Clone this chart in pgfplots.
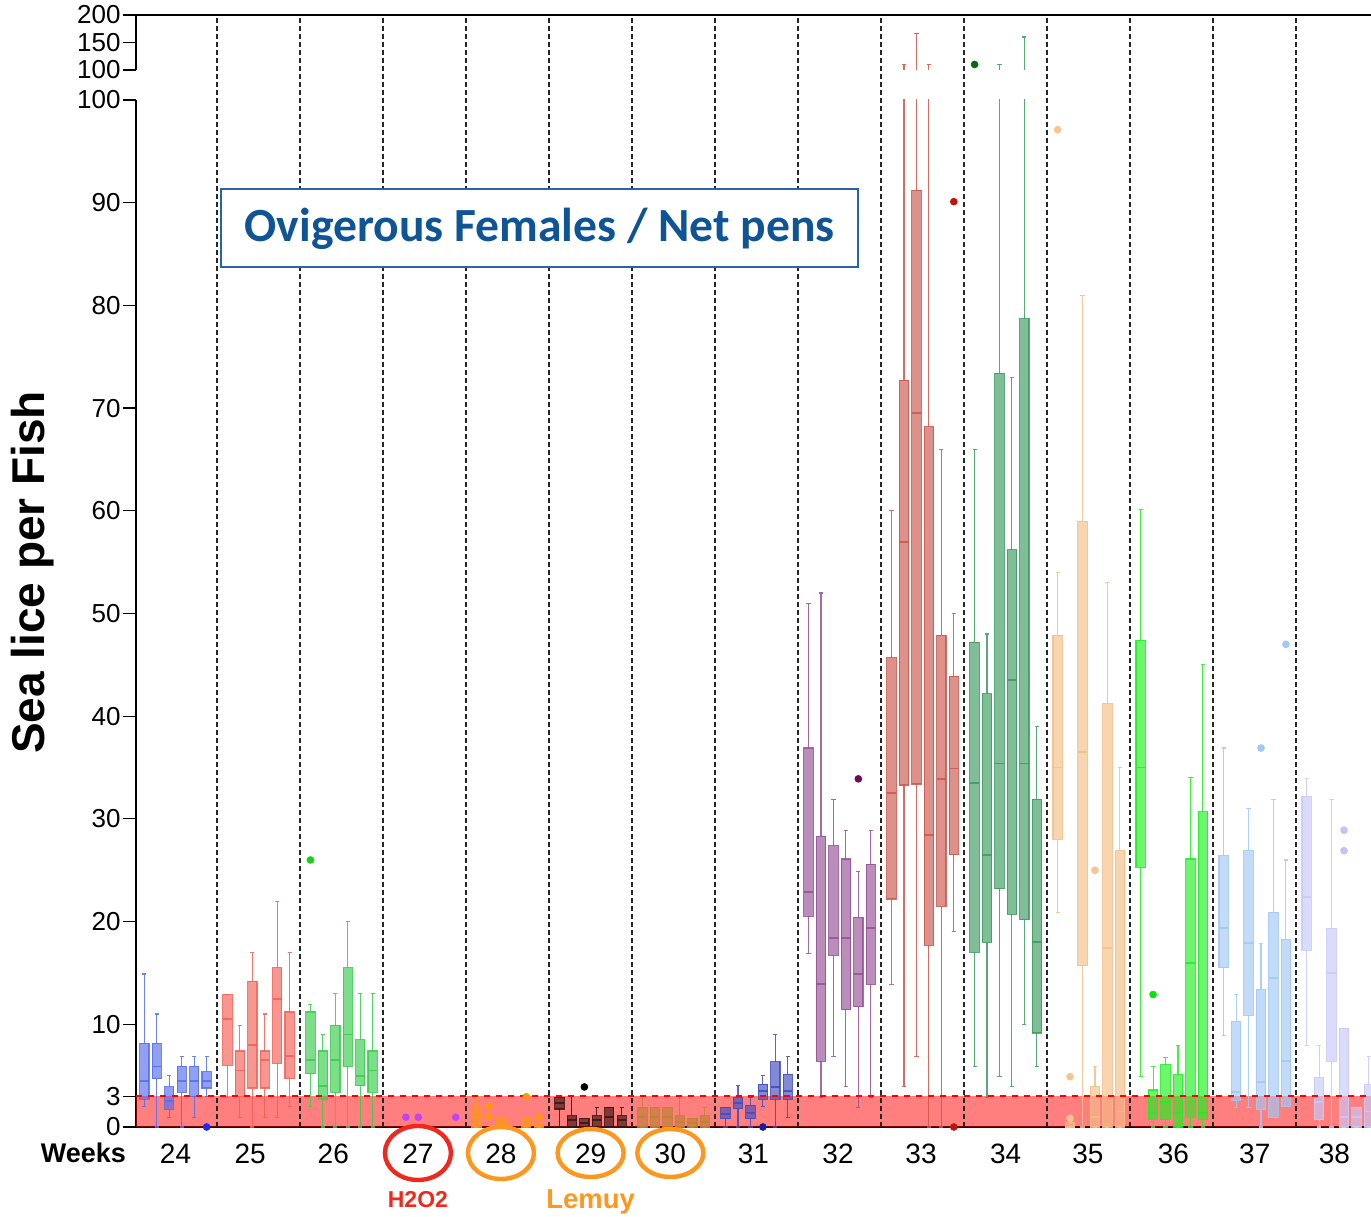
\documentclass[border=0pt]{standalone}
\usepackage{pgfplots}
\pgfplotsset{compat=1.18}
\usepackage{pgfplotstable}
\usepgfplotslibrary{statistics}
\usepackage{fontspec}
\setmainfont{Liberation Sans}
\newfontfamily\titlefont{Carlito}

\definecolor{c24}{RGB}{85,110,240}
\definecolor{c25}{RGB}{245,95,85}
\definecolor{c26}{RGB}{55,205,75}
\definecolor{c27}{RGB}{190,70,240}
\definecolor{c28}{RGB}{255,150,20}
\definecolor{c29}{RGB}{60,20,20}
\definecolor{c30}{RGB}{190,130,50}
\definecolor{c31}{RGB}{65,75,190}
\definecolor{c32}{RGB}{150,80,150}
\definecolor{c33}{RGB}{205,85,75}
\definecolor{c34}{RGB}{60,155,95}
\definecolor{c35}{RGB}{245,190,135}
\definecolor{c36}{RGB}{30,240,30}
\definecolor{c37}{RGB}{160,200,245}
\definecolor{c38}{RGB}{200,200,250}
\definecolor{d24}{RGB}{30,40,250}
\definecolor{d26}{RGB}{20,210,20}
\definecolor{d31}{RGB}{20,30,160}
\definecolor{d32}{RGB}{110,10,90}
\definecolor{d33}{RGB}{190,20,15}
\definecolor{d34}{RGB}{0,110,20}
\definecolor{d35}{RGB}{248,195,145}
\definecolor{d36}{RGB}{15,225,15}
\definecolor{d37}{RGB}{160,200,248}
\definecolor{d38}{RGB}{195,195,245}
\definecolor{titleblue}{RGB}{15,85,150}
\definecolor{boxblue}{RGB}{40,100,170}
\definecolor{lemuy}{RGB}{255,150,30}
\definecolor{hred}{RGB}{240,40,30}

% one row per net pen: week, position, lower whisker, Q1, median, Q3, upper whisker
\pgfplotstableread{
wk pos lw lq med uq uw
24 23.625 2.0 2.7 4.5 8.15 14.9
24 23.775 0 4.7 5.9 8.15 11.0
24 23.925 0.9 1.7 2.5 3.9 5.0
24 24.075 0 3.4 4.5 5.9 6.9
24 24.225 0.9 2.95 4.5 5.9 6.9
24 24.375 3.0 3.8 4.5 5.4 6.9
25 24.625 2.9 6.0 10.5 12.9 12.9
25 24.775 0.9 3.0 5.5 7.4 9.9
25 24.925 0 3.8 8.0 14.2 17.0
25 25.075 0.9 3.8 6.5 7.4 11.0
25 25.225 0.9 6.2 12.5 15.5 22.0
25 25.375 2.0 4.7 6.9 11.2 17.0
26 25.625 2.0 5.2 6.5 11.2 11.9
26 25.775 0 2.7 4.0 7.4 9.0
26 25.925 0 3.4 6.5 9.9 13.0
26 26.075 0 5.9 9.0 15.5 20.0
26 26.225 0 4.0 5.0 8.5 13.0
26 26.375 0 3.4 5.5 7.4 13.0
28 27.625 0 0 1.0 2.1 3.0
28 27.925 0 0 0.3 0.85 0.85
28 28.225 0 0 0.3 0.85 0.85
28 28.375 0 0 0.1 0.3 0.3
29 28.625 0 1.75 2.3 2.85 2.85
29 28.775 0 0 0.7 1.1 2.95
29 28.925 0 0 0.4 0.85 0.85
29 29.075 0 0 0.65 1.1 1.9
29 29.225 0 0 1.0 1.9 1.9
29 29.375 0 0 0.65 1.1 1.9
30 29.625 0 0 1.0 1.9 2.95
30 29.775 0 0 1.0 1.9 1.9
30 29.925 0 0 1.0 1.9 1.9
30 30.075 0 0 0.5 1.1 2.95
30 30.225 0 0 0.4 0.85 0.85
30 30.375 0 0 0.5 1.1 1.9
31 30.625 0 0.8 1.3 1.9 1.9
31 30.775 0 1.8 2.3 2.9 4.0
31 30.925 0 0.8 1.4 2.1 2.9
31 31.075 2.0 2.7 3.5 4.15 5.0
31 31.225 0 2.7 3.9 6.35 9.0
31 31.375 0.95 2.7 3.5 5.15 6.9
32 31.625 16.9 20.5 22.9 36.9 51.0
32 31.775 2.9 6.4 13.9 28.3 52.0
32 31.925 6.9 16.7 18.4 27.4 31.9
32 32.075 3.9 11.4 18.4 26.1 28.9
32 32.225 1.9 11.7 14.9 20.4 24.9
32 32.375 2.9 13.9 19.4 25.6 28.9
33 32.625 13.9 22.2 32.5 45.7 60.0
33 32.775 3.9 33.3 57.0 72.7 110
33 32.925 6.9 33.4 69.5 91.2 166
33 33.075 0 17.7 28.4 68.2 110
33 33.225 0 21.5 33.9 47.9 66.0
33 33.375 19.0 26.5 34.9 43.9 50.0
34 33.625 5.9 17.0 33.5 47.2 66.0
34 33.775 2.9 18.0 26.5 42.2 48.0
34 33.925 4.9 23.2 35.4 73.4 110
34 34.075 3.9 20.7 43.5 56.2 73.0
34 34.225 10.0 20.2 35.4 78.7 160
34 34.375 5.9 9.15 18.0 31.9 39.0
35 34.625 20.9 28.0 35.0 47.9 54.0
35 34.775 0 0 0 0.4 0.4
35 34.925 0 15.7 36.5 59.0 81.0
35 35.075 0 0 0.95 3.9 5.9
35 35.225 0 0 17.4 41.2 53.0
35 35.375 0 0 1.5 26.9 35.0
36 35.625 4.9 25.3 35.0 47.4 60.1
36 35.775 0 0.7 1.4 3.6 5.9
36 35.925 0 0.7 2.4 6.05 6.8
36 36.075 0 0 1.4 5.1 7.9
36 36.225 0 0.95 16.0 26.1 34.0
36 36.375 0 0.7 1.4 30.7 45.0
37 36.625 8.9 15.5 19.4 26.4 36.9
37 36.775 1.9 2.6 3.4 10.3 12.9
37 36.925 1.9 10.9 17.9 26.9 31.0
37 37.075 0 1.7 4.4 13.4 17.9
37 37.225 0.95 0.95 14.5 20.9 31.9
37 37.375 2.0 2.0 6.4 18.3 26.0
38 37.625 7.9 17.2 22.4 32.2 33.9
38 37.775 0 0.7 2.4 4.8 7.9
38 37.925 0 6.4 15.0 19.3 31.9
38 38.075 0 0 0.95 9.6 9.6
38 38.225 0 0 0.95 1.9 1.9
38 38.375 0 0 1.5 4.1 6.9
}\boxdata

\pgfplotsset{
  bx/.style={draw=#1, fill=#1, fill opacity=0.65, draw opacity=0.85, line width=0.55pt, mark=none},
  box24/.style={bx=c24}, box25/.style={bx=c25}, box26/.style={bx=c26},
  box28/.style={bx=c28}, box29/.style={bx=c29}, box30/.style={bx=c30},
  box31/.style={bx=c31}, box32/.style={bx=c32}, box33/.style={bx=c33},
  box34/.style={bx=c34}, box35/.style={bx=c35}, box36/.style={bx=c36},
  box37/.style={bx=c37}, box38/.style={bx=c38},
  dots/.style={only marks, mark=*, mark size=1.7pt, color=#1},
  panel/.style={
    scale only axis, width=617.5pt,
    xmin=23.524, xmax=38.40,
    clip mode=individual,
    axis y line*=left,
    tick align=outside, major tick length=6.5pt,
    tick style={black, line width=0.6pt},
    axis line style={black, line width=0.7pt},
    tick label style={font=\fontsize{13}{15}\selectfont},
    /pgf/number format/assume math mode=true,
    yticklabel style={inner sep=1pt},
    boxplot/draw direction=y,
    boxplot/box extend=0.112,
    boxplot/whisker extend=0.05,
    boxplot/every median/.style={line width=0.9pt},
  },
}

\newcommand\drawboxes{%
  \pgfplotstablegetrowsof{\boxdata}%
  \pgfmathtruncatemacro\lastrow{\pgfplotsretval-1}%
  \pgfplotsforeachungrouped \r in {0,...,\lastrow}{%
    \pgfplotstablegetelem{\r}{wk}\of\boxdata \let\bwk\pgfplotsretval
    \pgfplotstablegetelem{\r}{pos}\of\boxdata \let\bpos\pgfplotsretval
    \pgfplotstablegetelem{\r}{lw}\of\boxdata \let\blw\pgfplotsretval
    \pgfplotstablegetelem{\r}{lq}\of\boxdata \let\blq\pgfplotsretval
    \pgfplotstablegetelem{\r}{med}\of\boxdata \let\bmed\pgfplotsretval
    \pgfplotstablegetelem{\r}{uq}\of\boxdata \let\buq\pgfplotsretval
    \pgfplotstablegetelem{\r}{uw}\of\boxdata \let\buw\pgfplotsretval
    \edef\doplot{\noexpand\addplot[box\bwk, boxplot prepared={draw position=\bpos,
      lower whisker=\blw, lower quartile=\blq, median=\bmed,
      upper quartile=\buq, upper whisker=\buw}] coordinates {};}%
    \doplot
  }%
}

\begin{document}
\begin{tikzpicture}
\useasboundingbox (-68pt,-44.5pt) rectangle (617.5pt,563.5pt);

% lower panel, 0 to 100
\begin{axis}[panel, height=513.5pt,
  ymin=0, ymax=100,
  axis x line*=bottom,
  ytick={0,3,10,20,30,40,50,60,70,80,90,100},
  xtick={24,24.9,25.9,26.92,27.92,29,29.96,30.96,31.98,32.98,34,34.99,36.02,37,37.96},
  xticklabels={24,25,26,27,28,29,30,31,32,33,34,35,36,37,38},
  x tick style={draw=none},
  xticklabel style={anchor=center, yshift=-7pt, font=\fontsize{14}{16}\selectfont},
]
\addplot[draw=none, fill=red, fill opacity=0.5] coordinates {(23.524,3) (38.4,3)} \closedcycle;
\drawboxes
\addplot[red, dashed, line width=0.7pt] coordinates {(23.524,3) (38.4,3)};
% outliers
\addplot[dots=d24] coordinates {(24.375,0)};
\addplot[dots=d26] coordinates {(25.625,26.0)};
\addplot[dots=c27] coordinates {(26.775,0.95) (26.925,0.95) (27.375,0.95)};
\addplot[dots=c28] coordinates {(27.775,2.0) (27.775,1.0) (28.225,2.95) (28.375,0.95)};
\addplot[dots=black] coordinates {(28.925,3.9)};
\addplot[dots=d31] coordinates {(31.075,0)};
\addplot[dots=d32] coordinates {(32.225,33.9)};
\addplot[dots=d33] coordinates {(33.375,90.1) (33.375,0)};
\addplot[dots=d35] coordinates {(34.625,97.1) (34.775,4.9) (34.775,0.85) (35.075,25.0)};
\addplot[dots=d36] coordinates {(35.775,12.9)};
\addplot[dots=d37] coordinates {(37.075,36.9) (37.375,47.0)};
\addplot[dots=d38] coordinates {(38.075,28.9) (38.075,26.9)};
% week separators
\pgfplotsinvokeforeach{24.5,25.5,...,37.5}{
  \draw[black!85, dash pattern=on 2.5pt off 1.5pt, line width=0.8pt] (axis cs:#1,0) -- (axis cs:#1,108.3);
}
% annotations
\node[rotate=90, font=\bfseries\fontsize{23}{26}\selectfont] at (axis cs:22.28,54) {Sea lice per Fish};
\node[font=\bfseries\fontsize{13.5}{16}\selectfont] at (axis cs:22.89,-2.53) {Weeks};
\node[draw=boxblue, line width=1pt, fill=white, minimum width=318.5pt, minimum height=39pt,
  text=titleblue, font=\titlefont\bfseries\fontsize{23.8}{26}\selectfont] at (axis cs:28.386,87.5) {Ovigerous Females / Net pens};
\draw[hred, line width=2.2pt] (axis cs:26.92,-2.53) ellipse [x radius=16.5pt, y radius=13.5pt];
\draw[lemuy, line width=2.2pt] (axis cs:27.92,-2.53) ellipse [x radius=16.5pt, y radius=13pt];
\draw[lemuy, line width=2.2pt] (axis cs:29.0,-2.53) ellipse [x radius=16.5pt, y radius=12pt];
\draw[lemuy, line width=2.2pt] (axis cs:29.96,-2.53) ellipse [x radius=16.5pt, y radius=12pt];
\node[text=hred, font=\bfseries\fontsize{11.5}{14}\selectfont] at (axis cs:26.92,-7.1) {H2O2};
\node[text=lemuy, font=\bfseries\fontsize{13.7}{16}\selectfont] at (axis cs:29.0,-7.3) {Lemuy};
\end{axis}

% upper panel, 100 to 200
\begin{axis}[panel, at={(0pt,528.5pt)}, height=27.5pt,
  ymin=100, ymax=200,
  axis x line*=top,
  ytick={100,150,200},
  xtick=\empty,
]
\drawboxes
\addplot[dots=d34] coordinates {(33.625,110)};
\end{axis}
\end{tikzpicture}
\end{document}
